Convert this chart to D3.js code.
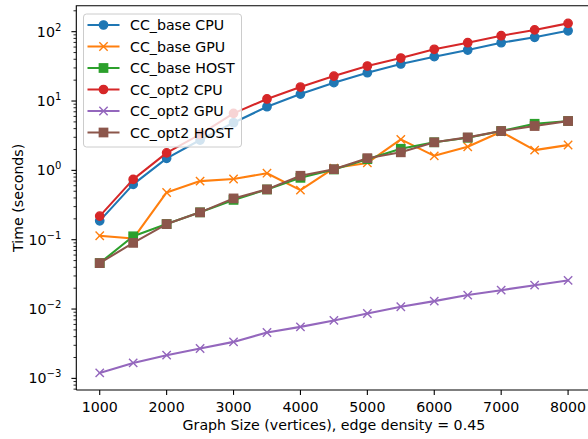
<!DOCTYPE html>
<html>
  <head>
    <meta charset="utf-8" />
    <title>CC timing</title>
    <script src="https://d3js.org/d3.v7.min.js"></script>
    <style>
      body { margin: 0; background: #fff; }
      svg { display: block; font-family: "DejaVu Sans", sans-serif; }
    </style>
  </head>
  <body>
    <svg width="588" height="439" id="chart"></svg>
    <script>
      // graph sizes (vertices)
      const sizes = [1000, 1500, 2000, 2500, 3000, 3500, 4000, 4500, 5000, 5500, 6000, 6500, 7000, 7500, 8000];

      // times in seconds
      const baseCpu  = [0.187, 0.628, 1.49, 2.74, 4.86, 8.27, 12.6, 18.4, 25.6, 34.2, 43.6, 54.4, 69.4, 83, 103];
      const baseGpu  = [0.114, 0.104, 0.48, 0.70, 0.75, 0.91, 0.52, 1.08, 1.28, 2.8, 1.62, 2.19, 3.6, 1.96, 2.32];
      const baseHost = [0.046, 0.112, 0.168, 0.248, 0.375, 0.53, 0.78, 1.03, 1.45, 2.05, 2.54, 2.95, 3.69, 4.7, 5.15];
      const opt2Cpu  = [0.219, 0.741, 1.79, 3.3, 6.64, 10.7, 15.9, 22.9, 32.0, 41.7, 55.7, 69.4, 87.5, 106, 132];
      const opt2Gpu  = [0.0012, 0.00167, 0.00216, 0.0027, 0.00336, 0.00459, 0.00553, 0.00685, 0.00863, 0.0108, 0.013, 0.0159, 0.0187, 0.0221, 0.0259];
      const opt2Host = [0.046, 0.09, 0.168, 0.248, 0.394, 0.532, 0.836, 1.04, 1.5, 1.82, 2.54, 2.99, 3.69, 4.36, 5.15];

      const seriesNames = ["CC_base CPU", "CC_base GPU", "CC_base HOST", "CC_opt2 CPU", "CC_opt2 GPU", "CC_opt2 HOST"];
      const seriesValues = [baseCpu, baseGpu, baseHost, opt2Cpu, opt2Gpu, opt2Host];
      const xTicks = [1000, 2000, 3000, 4000, 5000, 6000, 7000, 8000];
      const yExponents = [-3, -2, -1, 0, 1, 2];

      const colors = ["#1f77b4", "#ff7f0e", "#2ca02c", "#d62728", "#9467bd", "#8c564b"];
      const markers = ["circle", "x", "square", "circle", "x", "square"];

      const pLeft = 76.3, pTop = 5.7, pRight = 591.5, pBottom = 390;

      const svg = d3.select("#chart");

      const x = d3.scaleLinear().domain([650, 8350]).range([pLeft, pRight]);
      const y = d3.scaleLog().domain([6.8e-4, 237]).range([pBottom, pTop]);

      const fs = 14.2;

      // y axis ticks
      const yAxis = svg.append("g");
      yExponents.forEach(e => {
        const v = Math.pow(10, e);
        yAxis.append("line")
          .attr("x1", pLeft - 4.9).attr("x2", pLeft)
          .attr("y1", y(v)).attr("y2", y(v))
          .attr("stroke", "#000").attr("stroke-width", 1.1);
        const t = yAxis.append("text")
          .attr("x", pLeft - 15).attr("y", y(v) + 5)
          .attr("text-anchor", "end")
          .attr("font-size", fs)
          .attr("fill", "#000");
        t.append("tspan").text("10");
        t.append("tspan").attr("dy", -6).attr("font-size", 10).text(e < 0 ? "\u2212" + (-e) : String(e));
      });
      // minor ticks
      for (let e = -4; e <= 2; e++) {
        for (let m = 2; m <= 9; m++) {
          const v = m * Math.pow(10, e);
          if (v < y.domain()[0] || v > y.domain()[1]) continue;
          yAxis.append("line")
            .attr("x1", pLeft - 2.8).attr("x2", pLeft)
            .attr("y1", y(v)).attr("y2", y(v))
            .attr("stroke", "#000").attr("stroke-width", 0.85);
        }
      }

      // x axis ticks
      const xAxis = svg.append("g");
      xTicks.forEach(v => {
        xAxis.append("line")
          .attr("x1", x(v)).attr("x2", x(v))
          .attr("y1", pBottom).attr("y2", pBottom + 4.9)
          .attr("stroke", "#000").attr("stroke-width", 1.1);
        xAxis.append("text")
          .attr("x", x(v)).attr("y", pBottom + 21.5)
          .attr("text-anchor", "middle")
          .attr("font-size", fs)
          .text(v);
      });

      // axis labels
      svg.append("text")
        .attr("x", (pLeft + pRight) / 2).attr("y", 430)
        .attr("text-anchor", "middle").attr("font-size", fs)
        .text("Graph Size (vertices), edge density = 0.45");
      svg.append("text")
        .attr("transform", `translate(23,${(pTop + pBottom) / 2}) rotate(-90)`)
        .attr("text-anchor", "middle").attr("font-size", fs)
        .text("Time (seconds)");

      // clip area for data
      svg.append("clipPath").attr("id", "clip")
        .append("rect").attr("x", pLeft).attr("y", pTop)
        .attr("width", pRight - pLeft).attr("height", pBottom - pTop);

      const plot = svg.append("g").attr("clip-path", "url(#clip)");

      const line = d3.line().x((d, i) => x(sizes[i])).y(d => y(d));

      function drawMarker(g, type, cx, cy, color) {
        const r = 4.17;
        if (type === "circle") {
          g.append("circle").attr("cx", cx).attr("cy", cy).attr("r", r)
            .attr("fill", color).attr("stroke", color).attr("stroke-width", 1.39);
        } else if (type === "square") {
          g.append("rect").attr("x", cx - r).attr("y", cy - r)
            .attr("width", 2 * r).attr("height", 2 * r)
            .attr("fill", color).attr("stroke", color).attr("stroke-width", 1.39);
        } else {
          g.append("path")
            .attr("d", `M${cx - r},${cy - r}L${cx + r},${cy + r}M${cx - r},${cy + r}L${cx + r},${cy - r}`)
            .attr("stroke", color).attr("stroke-width", 1.39).attr("fill", "none");
        }
      }

      seriesValues.forEach((vals, s) => {
        const g = plot.append("g");
        g.append("path")
          .attr("d", line(vals))
          .attr("fill", "none")
          .attr("stroke", colors[s])
          .attr("stroke-width", 2.08)
          .attr("stroke-linejoin", "round")
          .attr("stroke-linecap", "square");
        vals.forEach((v, i) => drawMarker(g, markers[s], x(sizes[i]), y(v), colors[s]));
      });

      // spines (right spine falls outside the picture)
      svg.append("path")
        .attr("d", `M${pLeft},${pBottom}L${pLeft},${pTop}L${pRight},${pTop}M${pLeft},${pBottom}L${pRight},${pBottom}`)
        .attr("fill", "none").attr("stroke", "#000").attr("stroke-width", 1.1);

      // legend
      const lg = svg.append("g");
      lg.append("rect")
        .attr("x", 83.5).attr("y", 14).attr("width", 158).attr("height", 133)
        .attr("rx", 3).attr("ry", 3)
        .attr("fill", "#fff").attr("fill-opacity", 0.8)
        .attr("stroke", "#cccccc").attr("stroke-width", 1);
      seriesNames.forEach((name, s) => {
        const ly = 25 + s * 21.5;
        lg.append("line")
          .attr("x1", 87.5).attr("x2", 119.5).attr("y1", ly).attr("y2", ly)
          .attr("stroke", colors[s]).attr("stroke-width", 2.08);
        drawMarker(lg, markers[s], 103.5, ly, colors[s]);
        lg.append("text")
          .attr("x", 130).attr("y", ly + 5)
          .attr("font-size", fs)
          .text(name);
      });
    </script>
  </body>
</html>
